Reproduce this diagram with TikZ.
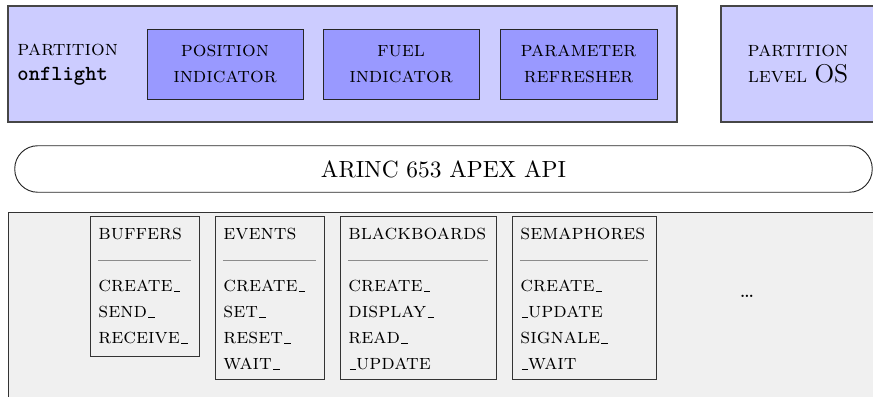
\documentclass[tikz,border=0pt]{standalone}
\usetikzlibrary{positioning}
\newdimen\pxu
\pxu=0.4274pt
\definecolor{partfill}{RGB}{204,204,255}
\definecolor{procfill}{RGB}{153,153,255}
\definecolor{svcfill}{RGB}{240,240,240}
\definecolor{edge}{RGB}{70,70,70}
% short underscore, as in the classic text fonts
\newcommand{\usc}{\leavevmode\kern.06em\vbox{\hrule width.3em}}
\newcommand{\scfont}{\fontsize{9.2}{11.1}\selectfont}
\tikzset{
  x=\pxu, y=-\pxu,
  txt/.style={font=\scfont, inner sep=0pt},
  partbox/.style={draw=edge, fill=partfill, line width=0.5pt},
  procbox/.style={draw=black!85, fill=procfill, align=center,
    minimum width=156*\pxu, minimum height=70*\pxu, inner sep=0pt,
    font=\scfont},
  svcbox/.style={draw=black!80, fill=svcfill},
  svcrule/.style={draw=black!45, line width=0.4pt},
}
\begin{document}
\begin{tikzpicture}
\useasboundingbox (0,0) rectangle (873,397);
\clip (0,0) rectangle (873,397);

% application partition with its processes
\path[partbox] (8,6) rectangle (677,122);
\node[txt, anchor=base west] (pname) at (17,56) {\textsc{partition}};
\node[txt, anchor=base west] (pid) at (17,81) {\texttt{\bfseries onflight}};
\node[procbox] (pos) at (225,64) {\textsc{position}\\\textsc{indicator}};
\node[procbox] (fuel) at (401,64) {\textsc{fuel}\\\textsc{indicator}};
\node[procbox, minimum width=157*\pxu] (param) at (578.5,64) {\textsc{parameter}\\\textsc{refresher}};

% OS-level partition
\path[partbox] (721,6) rectangle (880,122);
\node[txt, align=center] (oslvl) at (798,64) {\textsc{partition}\\\textsc{level} {\fontsize{11}{11.1}\selectfont OS}};

% APEX interface
\node[draw=black!85, rounded corners=9.8pt, minimum width=857.5*\pxu,
  minimum height=46.5*\pxu, inner sep=0pt, font=\fontsize{10}{11.1}\selectfont]
  (api) at (443.5,169) {ARINC 653 APEX API};

% services area
\path[svcbox] (8,212) rectangle (890,410);

% buffers
\path[draw=black!80] (90,216) rectangle (199,356);
\node[txt, anchor=base west] (bufT) at (98,240) {\textsc{buffers}};
\path[svcrule] (98,260) -- (191,260);
\node[txt, anchor=base west] (buf1) at (98,292) {\textsc{create\usc}};
\node[txt, anchor=base west] (buf2) at (98,318) {\textsc{send\usc}};
\node[txt, anchor=base west] (buf3) at (98,344) {\textsc{receive\usc}};

% events
\path[draw=black!80] (215,216) rectangle (324,379);
\node[txt, anchor=base west] (evT) at (223,240) {\textsc{events}};
\path[svcrule] (223,260) -- (316,260);
\node[txt, anchor=base west] (ev1) at (223,292) {\textsc{create\usc}};
\node[txt, anchor=base west] (ev2) at (223,318) {\textsc{set\usc}};
\node[txt, anchor=base west] (ev3) at (223,344) {\textsc{reset\usc}};
\node[txt, anchor=base west] (ev4) at (223,370) {\textsc{wait\usc}};

% blackboards
\path[draw=black!80] (340,216) rectangle (496,379);
\node[txt, anchor=base west] (bbT) at (348,240) {\textsc{blackboards}};
\path[svcrule] (348,260) -- (488,260);
\node[txt, anchor=base west] (bb1) at (348,292) {\textsc{create\usc}};
\node[txt, anchor=base west] (bb2) at (348,318) {\textsc{display\usc}};
\node[txt, anchor=base west] (bb3) at (348,344) {\textsc{read\usc}};
\node[txt, anchor=base west] (bb4) at (348,370) {\textsc{\usc update}};

% semaphores
\path[draw=black!80] (512,216) rectangle (656,379);
\node[txt, anchor=base west] (smT) at (520,240) {\textsc{semaphores}};
\path[svcrule] (520,260) -- (648,260);
\node[txt, anchor=base west] (sm1) at (520,292) {\textsc{create\usc}};
\node[txt, anchor=base west] (sm2) at (520,318) {\textsc{\usc update}};
\node[txt, anchor=base west] (sm3) at (520,344) {\textsc{signale\usc}};
\node[txt, anchor=base west] (sm4) at (520,370) {\textsc{\usc wait}};

\node[txt, anchor=base] (more) at (747,298) {\dots};
\end{tikzpicture}
\end{document}
